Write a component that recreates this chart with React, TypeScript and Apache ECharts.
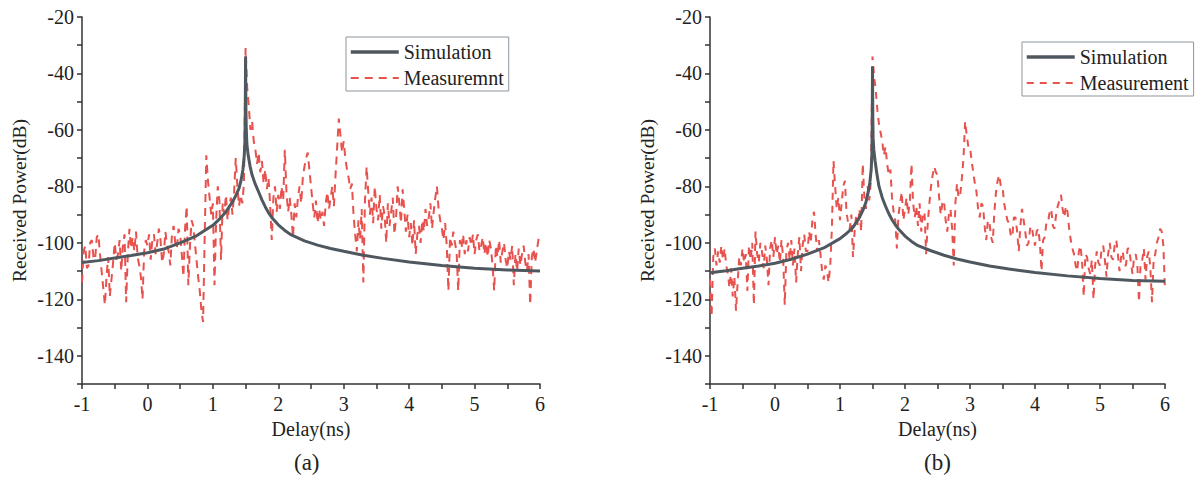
import React, { useEffect, useRef } from "react";
import * as echarts from "echarts";

const FONT = "'Liberation Serif', 'Times New Roman', serif";

// Delay sampling grid of the measured traces (ns)
const MEAS_START = -1;
const MEAS_STEP = 0.025;

// Panel (a) measurement (dB), one value per 0.025 ns from -1 to 6 (rows of 0.5 ns)
const measA: number[] = [
  -114, -103, -101, -109, -108, -100, -99, -105, -106, -98, -97, -104, -110, -116, -122, -112, -105, -119, -113, -107,
  -100, -106, -104, -99, -110, -101, -97, -121, -104, -95, -102, -98, -103, -96, -105, -108, -112, -120, -103, -99,
  -101, -97, -106, -99, -97, -104, -100, -95, -99, -107, -104, -96, -101, -103, -108, -97, -94, -100, -102, -95,
  -97, -104, -112, -95, -87, -115, -101, -92, -94, -100, -106, -112, -117, -124, -128, -98, -69, -78, -84, -90,
  -86, -115, -92, -80, -85, -106, -86, -90, -83, -92, -87, -84, -90, -82, -70, -80, -87, -83, -86, -79,
  -31, -45, -52, -60, -57, -64, -67, -72, -68, -75, -71, -79, -74, -81, -77, -86, -99, -84, -80, -89,
  -83, -88, -80, -85, -67, -82, -89, -84, -90, -98, -86, -91, -84, -80, -86, -77, -73, -70, -68, -74,
  -80, -86, -91, -85, -93, -88, -92, -89, -94, -86, -82, -88, -84, -80, -87, -76, -66, -56, -62, -68,
  -64, -70, -74, -77, -81, -79, -90, -97, -103, -92, -99, -88, -114, -85, -73, -82, -90, -84, -93, -80,
  -88, -92, -83, -95, -87, -90, -100, -86, -94, -89, -84, -97, -91, -80, -86, -93, -81, -88, -96, -90,
  -98, -93, -101, -92, -104, -97, -94, -100, -92, -96, -88, -94, -91, -86, -95, -89, -84, -80, -88, -92,
  -95, -99, -93, -101, -117, -98, -101, -96, -100, -103, -117, -99, -102, -97, -104, -99, -103, -98, -101, -97,
  -104, -99, -97, -103, -101, -98, -104, -100, -105, -99, -102, -108, -117, -101, -105, -99, -107, -103, -100, -106,
  -109, -103, -106, -101, -115, -104, -110, -102, -108, -104, -101, -107, -110, -104, -122, -105, -102, -107, -103, -99,
  -97,
];

// Panel (b) measurement (dB)
const measB: number[] = [
  -113, -126, -105, -102, -108, -103, -107, -101, -106, -102, -108, -111, -116, -109, -119, -112, -124, -114, -105, -108,
  -102, -107, -104, -117, -101, -106, -100, -122, -96, -104, -107, -100, -103, -109, -101, -106, -115, -102, -99, -105,
  -98, -104, -101, -107, -99, -105, -122, -103, -100, -106, -99, -108, -102, -114, -104, -98, -110, -101, -97, -103,
  -103, -96, -100, -92, -89, -97, -103, -99, -104, -110, -113, -108, -110, -114, -108, -95, -71, -80, -88, -84,
  -92, -86, -80, -78, -89, -93, -95, -90, -105, -96, -90, -94, -88, -96, -72, -84, -88, -80, -85, -78,
  -34, -41, -46, -53, -58, -61, -64, -69, -66, -72, -76, -74, -84, -89, -92, -102, -90, -86, -82, -92,
  -88, -84, -90, -85, -72, -86, -91, -87, -94, -86, -96, -90, -89, -104, -93, -86, -80, -76, -73, -75,
  -76, -84, -90, -86, -85, -92, -96, -90, -88, -95, -108, -86, -79, -84, -83, -77, -70, -57, -62, -66,
  -66, -71, -75, -79, -82, -88, -91, -86, -87, -94, -99, -92, -93, -98, -100, -89, -82, -78, -76, -80,
  -80, -86, -89, -92, -93, -97, -98, -91, -91, -96, -103, -94, -88, -92, -96, -101, -100, -95, -94, -98,
  -101, -96, -95, -100, -110, -99, -98, -93, -93, -89, -88, -94, -95, -90, -87, -85, -83, -88, -91, -87,
  -89, -95, -99, -102, -104, -108, -110, -103, -101, -107, -119, -104, -105, -109, -111, -106, -120, -108, -103, -107,
  -108, -102, -101, -106, -112, -104, -100, -105, -106, -101, -99, -104, -110, -105, -103, -108, -108, -102, -102, -107,
  -111, -105, -104, -108, -121, -107, -106, -102, -113, -105, -103, -109, -121, -106, -104, -100, -98, -95, -96, -101,
  -117,
];

// Simulation curves
const simDelay = [
  -1, -0.75, -0.5, -0.25, 0, 0.25, 0.5, 0.75, 1.0, 1.1, 1.2, 1.3, 1.35, 1.4, 1.43, 1.46, 1.48, 1.49,
  1.495, 1.5, 1.505, 1.51, 1.52, 1.54, 1.57, 1.6, 1.65, 1.7, 1.75, 1.8, 1.85, 1.9, 2.0, 2.1, 2.2, 2.4,
  2.6, 2.8, 3.0, 3.3, 3.6, 4.0, 4.5, 5.0, 5.5, 6.0,
];
const simPowerA = [
  -107, -106.3, -105.4, -104.5, -103.5, -102.2, -100, -97.5, -93.8, -91.6, -89, -85.5, -83.3, -80.7,
  -78, -74, -69, -64, -55, -34, -52, -59, -65, -69, -73, -76, -79.3, -82, -84.8, -87.2, -89.3, -91,
  -93.6, -95.6, -97.2, -99.3, -100.8, -102, -103, -104.4, -105.5, -106.8, -108, -109, -109.6, -110,
];
const simPowerB = [
  -110.6, -109.9, -109, -108.2, -107.2, -105.8, -104, -101.8, -98.5, -96.7, -94.5, -91, -88.6, -85.5,
  -82.5, -78.5, -74, -69, -60, -37.5, -56, -63, -67, -71, -76, -80, -84, -87, -89.6, -91.8, -93.6, -95.1,
  -97.6, -99.5, -101, -102.8, -104.4, -105.7, -106.8, -108.2, -109.3, -110.5, -111.7, -112.6, -113.3, -113.6,
];

const xTickLabels = ["-1", "0", "1", "2", "3", "4", "5", "6"];
const yTickLabels = ["-140", "-120", "-100", "-80", "-60", "-40", "-20"];

const pairs = (xs: number[], ys: number[]) => ys.map((y, i) => [xs[i], y]);
const measPairs = (ys: number[]) =>
  ys.map((y, i) => [Number((MEAS_START + i * MEAS_STEP).toFixed(3)), y]);

const SIM_COLOR = "#50585f";
const MEAS_COLOR = "#e8524e";

function xAxisFor(gridIndex: number) {
  return {
    type: "value",
    gridIndex,
    min: -1,
    max: 6,
    interval: 0.5,
    axisLine: { show: true, onZero: false, lineStyle: { color: "#333", width: 1.5 } },
    axisTick: { show: true, length: 5, lineStyle: { color: "#333", width: 1.5 } },
    axisLabel: {
      interval: 0,
      margin: 10,
      fontFamily: FONT,
      fontSize: 20,
      color: "#222",
      formatter: (v: number) => (xTickLabels.includes(String(v)) ? String(v) : ""),
    },
    splitLine: { show: false },
    name: "Delay(ns)",
    nameLocation: "middle",
    nameGap: 33,
    nameTextStyle: { fontFamily: FONT, fontSize: 20, color: "#222" },
  };
}

function yAxisFor(gridIndex: number) {
  return {
    type: "value",
    gridIndex,
    min: -150,
    max: -20,
    interval: 10,
    axisLine: { show: true, onZero: false, lineStyle: { color: "#333", width: 1.5 } },
    axisTick: { show: true, length: 5, lineStyle: { color: "#333", width: 1.5 } },
    axisLabel: {
      interval: 0,
      margin: 8,
      fontFamily: FONT,
      fontSize: 20,
      color: "#222",
      formatter: (v: number) => (yTickLabels.includes(String(v)) ? String(v) : ""),
    },
    splitLine: { show: false },
    name: "Received Power(dB)",
    nameLocation: "middle",
    nameGap: 53,
    nameTextStyle: { fontFamily: FONT, fontSize: 19.5, color: "#222" },
  };
}

function legendAt(left: number, top: number, simName: string, measName: string) {
  return {
    data: [
      { name: simName, lineStyle: { width: 3.5 } },
      { name: measName, lineStyle: { width: 2 } },
    ],
    orient: "vertical",
    left,
    top,
    itemWidth: 48,
    itemHeight: 14,
    itemGap: 6,
    padding: [5, 5, 3, 3],
    borderColor: "#8c959c",
    borderWidth: 1,
    selectedMode: false,
    itemStyle: { opacity: 0 },
    textStyle: { fontFamily: FONT, fontSize: 20, color: "#222" },
  };
}

export default function App() {
  const ref = useRef<HTMLDivElement>(null);
  useEffect(() => {
    if (!ref.current) return;
    const chart = echarts.init(ref.current, undefined, { renderer: "svg" });
    chart.setOption({
      animation: false,
      backgroundColor: "#ffffff",
      grid: [
        { left: 82, top: 17, width: 458, height: 367 },
        { left: 710, top: 17, width: 455, height: 367 },
      ],
      xAxis: [xAxisFor(0), xAxisFor(1)],
      yAxis: [yAxisFor(0), yAxisFor(1)],
      legend: [
        legendAt(346, 37, "Simulation", "Measuremnt"),
        legendAt(1022, 42, "Simulation", "Measurement"),
      ],
      series: [
        {
          name: "Measuremnt",
          type: "line",
          xAxisIndex: 0,
          yAxisIndex: 0,
          symbol: "none",
          data: measPairs(measA),
          lineStyle: { color: MEAS_COLOR, width: 2, type: [8, 6] },
          itemStyle: { color: MEAS_COLOR },
          z: 2,
        },
        {
          name: "Simulation",
          type: "line",
          xAxisIndex: 0,
          yAxisIndex: 0,
          symbol: "none",
          data: pairs(simDelay, simPowerA),
          lineStyle: { color: SIM_COLOR, width: 3 },
          itemStyle: { color: SIM_COLOR },
          z: 3,
        },
        {
          name: "Measurement",
          type: "line",
          xAxisIndex: 1,
          yAxisIndex: 1,
          symbol: "none",
          data: measPairs(measB),
          lineStyle: { color: MEAS_COLOR, width: 2, type: [7, 6] },
          itemStyle: { color: MEAS_COLOR },
          z: 2,
        },
        {
          name: "Simulation",
          type: "line",
          xAxisIndex: 1,
          yAxisIndex: 1,
          symbol: "none",
          data: pairs(simDelay, simPowerB),
          lineStyle: { color: SIM_COLOR, width: 3 },
          itemStyle: { color: SIM_COLOR },
          z: 3,
        },
      ],
      graphic: [
        {
          type: "text",
          left: 294,
          top: 451,
          style: { text: "(a)", fontFamily: FONT, fontSize: 23, fill: "#222" },
        },
        {
          type: "text",
          left: 924,
          top: 451,
          style: { text: "(b)", fontFamily: FONT, fontSize: 23, fill: "#222" },
        },
      ],
    });
    return () => chart.dispose();
  }, []);
  return (
    <div
      ref={ref}
      style={{ position: "absolute", left: 0, top: 0, width: 1196, height: 481, background: "#fff" }}
    />
  );
}
